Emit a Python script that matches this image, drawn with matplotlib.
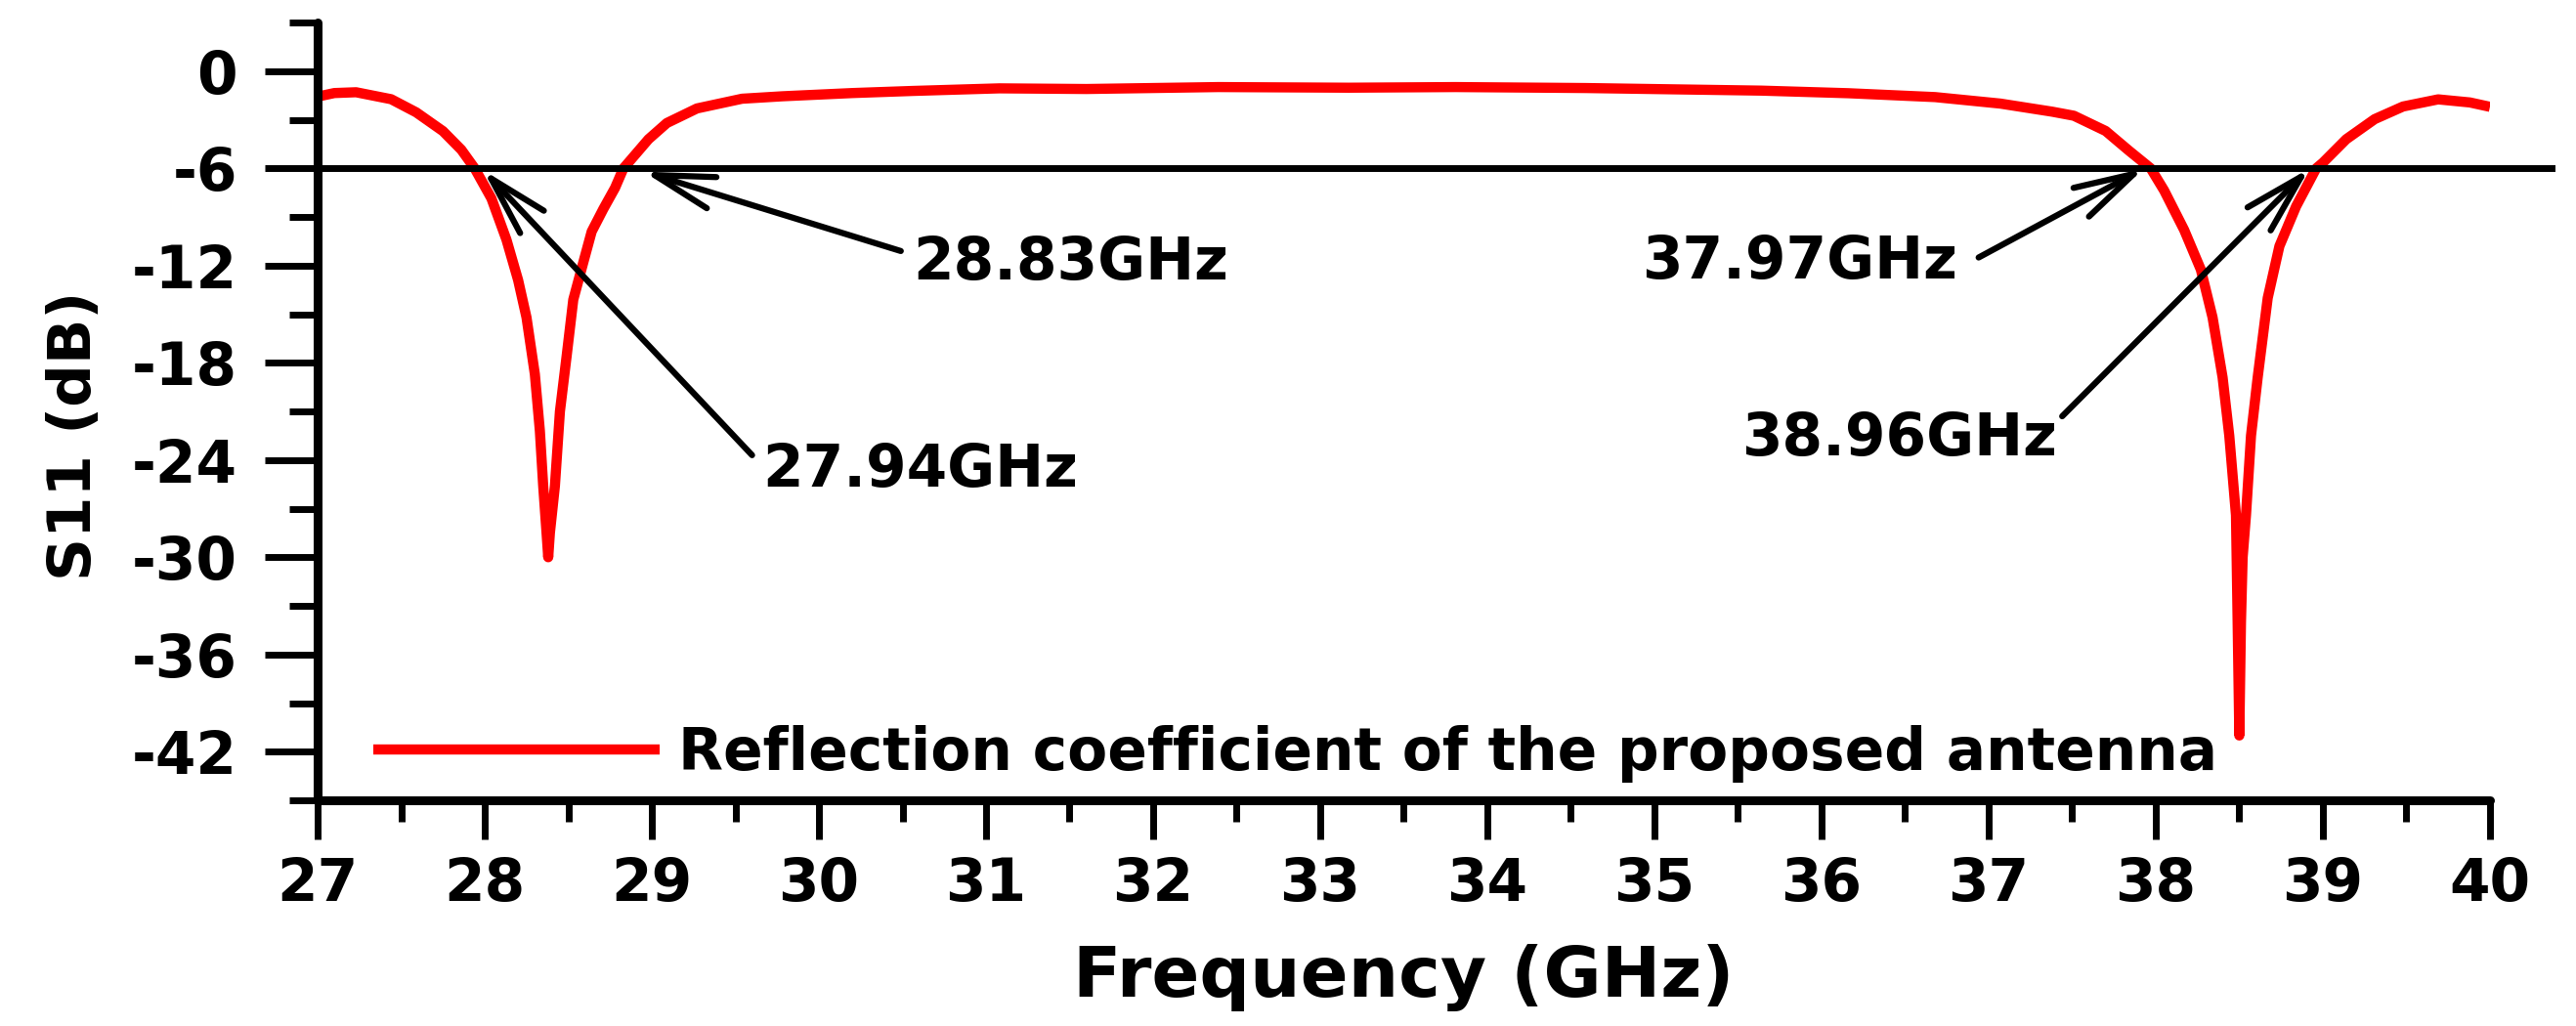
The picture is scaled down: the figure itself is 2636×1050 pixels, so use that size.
import numpy as np
import matplotlib.pyplot as plt

plt.rcParams['font.family'] = ['DejaVu Sans']
plt.rcParams['font.weight'] = 'bold'
plt.rcParams['axes.unicode_minus'] = False

# S11
freq = [27.00, 27.10, 27.23, 27.44, 27.59, 27.75, 27.86, 27.94, 28.04, 28.13,
        28.20, 28.25, 28.30, 28.33, 28.35, 28.37, 28.38, 28.39, 28.42, 28.45,
        28.49, 28.53, 28.59, 28.64, 28.71, 28.78, 28.83, 28.98, 29.09, 29.27,
        29.54, 29.78, 30.20, 30.56, 31.08, 31.60, 32.39, 33.17, 33.81, 34.59,
        35.11, 35.64, 36.16, 36.68, 37.07, 37.38, 37.51, 37.70, 37.84, 37.97,
        38.05, 38.17, 38.27, 38.34, 38.40, 38.44, 38.48, 38.49, 38.50, 38.51,
        38.52, 38.54, 38.57, 38.61, 38.67, 38.74, 38.84, 38.96, 39.00, 39.14,
        39.31, 39.48, 39.69, 39.88, 40.00]
s11 = [-1.57, -1.35, -1.30, -1.73, -2.54, -3.70, -4.85, -6.00, -7.85, -10.4,
       -12.9, -15.2, -18.7, -22.2, -25.6, -28.5, -30.0, -28.5, -25.6, -21.0,
       -17.6, -14.1, -11.8, -9.9, -8.5, -7.2, -6.0, -4.2, -3.2, -2.3,
       -1.70, -1.55, -1.35, -1.22, -1.06, -1.10, -0.98, -1.02, -0.98, -1.04,
       -1.12, -1.20, -1.36, -1.60, -2.00, -2.50, -2.75, -3.69, -4.91, -6.00,
       -7.36, -9.8, -12.25, -15.2, -18.9, -22.5, -27.4, -34.0, -41.0, -34.0,
       -30.0, -27.4, -22.5, -18.9, -14.0, -10.8, -8.34, -6.00, -5.65, -4.20,
       -2.96, -2.18, -1.74, -1.93, -2.20]

ref_level = -6
xticks = list(range(27, 41))
yticks = [0, -6, -12, -18, -24, -30, -36, -42]

# annotations: label, arrow tip, arrow tail, text anchor, alignment
ann_labels = ['27.94GHz', '28.83GHz', '37.97GHz', '38.96GHz']
ann_tips = [(27.99, -6.1), (28.95, -6.2), (37.93, -6.0), (38.92, -6.0)]
ann_tails = [(29.60, -23.7), (30.49, -11.1), (36.94, -11.5), (37.44, -21.3)]
ann_text_xy = [(29.665, -25.67), (30.56, -12.85), (36.81, -12.8), (37.41, -23.7)]
ann_ha = ['left', 'left', 'right', 'right']

fig = plt.figure(figsize=(26.36, 10.5), dpi=100)
ax = fig.add_axes([0.1233, 0.22, 0.8433, 0.758])

ax.plot(freq, s11, color='#FF0000', linewidth=7.5, solid_joinstyle='round',
        solid_capstyle='butt',
        label='Reflection coefficient of the proposed antenna')
ax.plot([27, 40.37], [ref_level, ref_level], color='black', linewidth=5,
        clip_on=False)

for lab, tip, tail, txy, ha in zip(ann_labels, ann_tips, ann_tails, ann_text_xy, ann_ha):
    ax.annotate('', xy=tip, xytext=tail,
                arrowprops=dict(arrowstyle='->, head_length=2.2, head_width=0.6',
                                mutation_scale=20, lw=4.5, color='black',
                                shrinkA=0, shrinkB=0, capstyle='round'))
    ax.text(txy[0], txy[1], lab, fontsize=43, fontweight='bold',
            ha=ha, va='baseline')

ax.set_xlim(27, 40)
ax.set_ylim(-45, 3)
ax.set_xticks(xticks)
ax.set_xticks(np.arange(27.5, 40, 1.0), minor=True)
ax.set_yticks(yticks)
ax.set_yticks(np.arange(-45, 4, 3), minor=True)

for side in ['top', 'right']:
    ax.spines[side].set_visible(False)
for side in ['left', 'bottom']:
    ax.spines[side].set_linewidth(6.5)
    ax.spines[side].set_capstyle('round')

ax.tick_params(axis='x', which='major', direction='out', length=29, width=5,
               labelsize=43, pad=12)
ax.tick_params(axis='x', which='minor', direction='out', length=16, width=5)
ax.tick_params(axis='y', which='major', direction='out', length=39, width=5,
               labelsize=43, pad=20)
ax.tick_params(axis='y', which='minor', direction='out', length=21, width=5)
for t in ax.get_xticklabels() + ax.get_yticklabels():
    t.set_fontweight('bold')

ax.set_xlabel('Frequency (GHz)', fontsize=52, fontweight='bold', va='baseline')
ax.xaxis.set_label_coords(0.5, -0.2525)
ax.set_ylabel('S11 (dB)', fontsize=44, fontweight='bold', va='center')
ax.yaxis.set_label_coords(-0.1116, 0.469)

leg = ax.legend(loc='center left', bbox_to_anchor=(0.0256, 0.06), frameon=False,
                fontsize=43, handlelength=4.9, handletextpad=0.33,
                borderpad=0, borderaxespad=0)
for t in leg.get_texts():
    t.set_fontweight('bold')

fig.savefig('out.png', dpi=100)
